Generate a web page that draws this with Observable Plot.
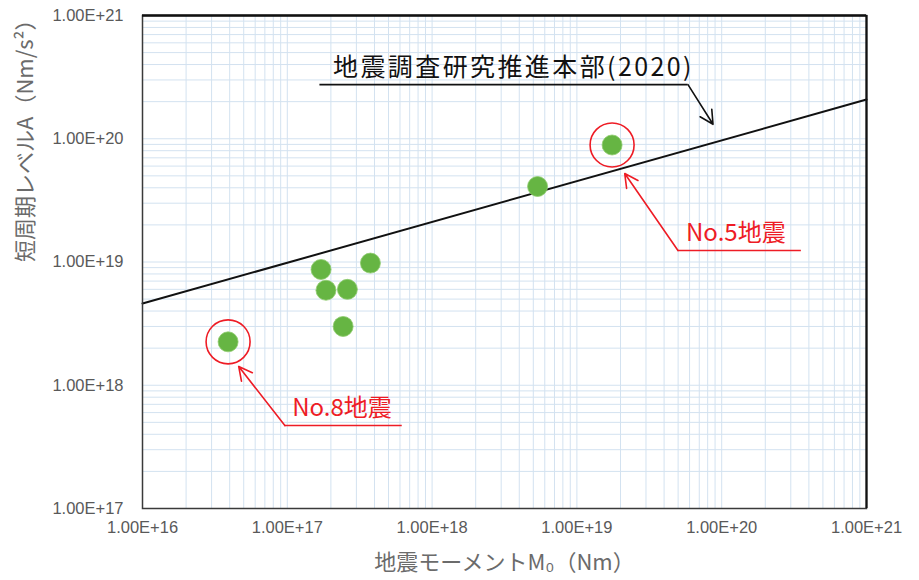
<!DOCTYPE html>
<html>
<head>
<meta charset="utf-8">
<script src="https://cdn.jsdelivr.net/npm/d3@7"></script>
<script src="https://cdn.jsdelivr.net/npm/@observablehq/plot@0.6"></script>
<style>
  html, body { margin: 0; padding: 0; background: #fff; }
  #chart { width: 919px; height: 580px; }
</style>
</head>
<body>
<div id="chart"></div>
<script>
// Axis ticks
const xTicks = [1e16, 1e17, 1e18, 1e19, 1e20, 1e21];
const yTicks = [1e17, 1e18, 1e19, 1e20, 1e21];

// Earthquakes: seismic moment M0 (Nm) and short-period level A (Nm/s^2)
const moment = [3.9e16, 1.71e17, 1.85e17, 2.6e17, 2.43e17, 3.75e17, 5.35e18, 1.75e19];
const levelA = [2.25e18, 8.7e18, 5.9e18, 6.0e18, 3.0e18, 9.8e18, 4.1e19, 8.9e19];

// Highlighted events (No.8, No.5)
const highlightIdx = [0, 7];

// 地震調査研究推進本部(2020) relation, endpoints
const relM0 = [1e16, 1e21];
const relA = [4.6e18, 2.08e20];

// Annotations
const noteText  = ["地震調査研究推進本部(2020)", "No.5地震", "No.8地震"];
const noteColor = ["#111111", "#ee1c25", "#ee1c25"];
const noteSize  = [25, 24, 24];
const noteSpace = [2.4, 0, 0];
const noteTextX = [2.07e17, 5.67e19, 1.08e17];
const noteTextY = [3.72e20, 1.70e19, 6.48e17];
const lineX0    = [1.68e17, 4.99e19, 9.62e16];
const lineX1    = [5.85e19, 3.55e20, 6.22e17];
const lineY     = [2.75e20, 1.24e19, 4.71e17];
const arrowX0   = [5.85e19, 4.99e19, 9.62e16];
const tipX      = [8.71e19, 2.14e19, 4.62e16];
const tipY      = [1.31e20, 5.22e19, 1.42e18];

const quakes = moment.map((m, i) => ({m, a: levelA[i]}));
const highlighted = highlightIdx.map(i => quakes[i]);
const relation = relM0.map((m, i) => ({m, a: relA[i]}));
const notes = noteText.map((t, i) => ({
  t, c: noteColor[i], fs: noteSize[i], ls: noteSpace[i], tx: noteTextX[i], ty: noteTextY[i],
  x0: lineX0[i], x1: lineX1[i], ly: lineY[i], ax: arrowX0[i], px: tipX[i], py: tipY[i]
}));

// Minor log grid (1..9 per decade)
const minor = ticks => {
  const out = [];
  for (let i = 0; i < ticks.length - 1; i++) for (let k = 1; k <= 9; k++) out.push(k * ticks[i]);
  out.push(ticks[ticks.length - 1]);
  return out;
};
const gridX = minor(xTicks);
const gridY = minor(yTicks);

const fmt = d => d.toExponential(2).toUpperCase();
const cjk = "'Noto Sans CJK JP', sans-serif";
const latin = "'Liberation Sans', sans-serif";

const chart = Plot.plot({
  width: 919,
  height: 580,
  marginTop: 15,
  marginRight: 53,
  marginBottom: 72,
  marginLeft: 142,
  style: {fontFamily: "'Liberation Sans', 'Noto Sans CJK JP', sans-serif", background: "#fff"},
  x: {type: "log", domain: [1e16, 1e21], axis: null},
  y: {type: "log", domain: [1e17, 1e21], axis: null},
  marks: [
    Plot.ruleX(gridX, {x: d => d, stroke: "#d3e2f0", strokeWidth: 1}),
    Plot.ruleY(gridY, {y: d => d, stroke: "#d3e2f0", strokeWidth: 1}),
    Plot.text(xTicks, {x: d => d, frameAnchor: "bottom", dy: 24, text: fmt, fontSize: 16.5, fill: "#595959", fontFamily: latin}),
    Plot.text(yTicks, {y: d => d, frameAnchor: "left", dx: -19, textAnchor: "end", text: fmt, fontSize: 16.5, fill: "#595959", fontFamily: latin}),
    Plot.text(["地震モーメントM₀（Nm）"], {frameAnchor: "bottom", dy: 61, fontSize: 22, fill: "#6b6b6b", fontFamily: cjk}),
    Plot.text(["短周期レベルA（Nm/s²）"], {frameAnchor: "left", dx: -117, rotate: -90, fontSize: 22, fill: "#6b6b6b", fontFamily: cjk}),
    Plot.line(relation, {x: "m", y: "a", stroke: "#111", strokeWidth: 2}),
    Plot.dot(quakes, {x: "m", y: "a", r: 10, fill: "#66b543", stroke: "#8fcb6f", strokeWidth: 0.8}),
    Plot.dot(highlighted, {x: "m", y: "a", r: 22, fill: "none", stroke: "#ee1c25", strokeWidth: 1.6}),
    Plot.ruleY(notes, {y: "ly", x1: "x0", x2: "x1", stroke: "c", strokeWidth: 1.6}),
    Plot.arrow(notes, {x1: "ax", y1: "ly", x2: "px", y2: "py", stroke: "c", strokeWidth: 1.6, headLength: 14, headAngle: 55}),
    Plot.text(notes, {x: "tx", y: "ty", text: "t", fill: "c", textAnchor: "start", fontSize: "fs", fontFamily: cjk,
      render(index, scales, values, dims, context, next) {
        const g = next(index, scales, values, dims, context);
        d3.select(g).selectAll("text").each(function(_, j) {
          this.setAttribute("letter-spacing", notes[index[j]].ls);
        });
        return g;
      }}),
    Plot.frame({stroke: "#3a3a3a", strokeWidth: 1.5}),
    Plot.ruleY([1e21], {stroke: "#111", strokeWidth: 2.5}),
    Plot.ruleX([1e21], {stroke: "#111", strokeWidth: 2.2})
  ]
});
document.getElementById("chart").appendChild(chart);
</script>
</body>
</html>
